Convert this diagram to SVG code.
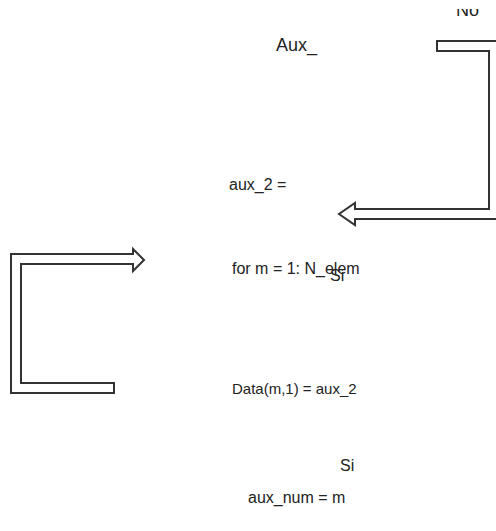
<svg xmlns="http://www.w3.org/2000/svg" width="496" height="531" viewBox="0 0 496 531">
<style>
text{font-family:"Liberation Sans",Arial,sans-serif;font-size:16px;fill:#222}
.arr{fill:#fff;stroke:#333;stroke-width:2;stroke-linejoin:miter}
</style>
<defs><clipPath id="c"><rect x="0" y="9" width="496" height="20"/></clipPath></defs>
<rect width="496" height="531" fill="#fff"/>
<g id="connectors">
<path class="arr" d="M437,41 H500 V219 H355 V225 L339,214 L355,203 V209 H489 V51 H437 Z"/>
<path class="arr" d="M114,383 H21 V264 H133 V271 L144,260 L133,249 V254 H11 V393 H114 Z"/>
</g>
<g id="n1"><text x="276" y="51" style="font-size:18px">Aux_</text></g>
<g id="n2"><text x="229" y="190">aux_2 =</text></g>
<g id="n3"><text x="232" y="274">for m = 1: N_elem</text></g>
<g id="n4"><text x="232" y="394" style="font-size:15px">Data(m,1) = aux_2</text></g>
<g id="n5"><text x="340" y="471">Si</text></g>
<g id="n6"><text x="248" y="503">aux_num = m</text></g>
<g id="l1"><text x="456" y="16" clip-path="url(#c)" style="font-size:18px">No</text></g>
<g id="l2"><text x="330" y="281">Si</text></g>
</svg>
